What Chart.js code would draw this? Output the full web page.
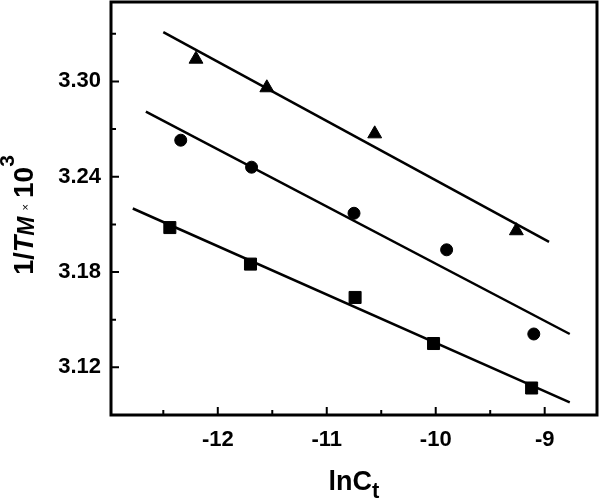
<!DOCTYPE html>
<html>
<head>
<meta charset="utf-8">
<script src="https://cdn.jsdelivr.net/npm/chart.js@4"></script>
<style>
  html, body { margin: 0; padding: 0; background: #fff; overflow: hidden; }
  canvas { display: block; }
</style>
</head>
<body>
<canvas id="grafico" width="600" height="500"></canvas>
<script>
// Datos
const xTriangulos = [-12.20, -11.55, -10.56, -9.26];
const yTriangulos = [3.314, 3.296, 3.267, 3.206];
const xCirculos = [-12.34, -11.69, -10.75, -9.90, -9.10];
const yCirculos = [3.263, 3.246, 3.217, 3.194, 3.141];
const xCuadrados = [-12.44, -11.70, -10.74, -10.02, -9.12];
const yCuadrados = [3.208, 3.185, 3.164, 3.135, 3.107];

// Rectas de ajuste (extremos)
const xRectaTri = [-12.50, -8.96];
const yRectaTri = [3.331, 3.199];
const xRectaCir = [-12.66, -8.77];
const yRectaCir = [3.281, 3.141];
const xRectaCua = [-12.78, -8.77];
const yRectaCua = [3.220, 3.098];

const ticksX = [-12, -11, -10, -9];
const ticksY = [3.12, 3.18, 3.24, 3.30];
const menoresX = [-12.5, -11.5, -10.5, -9.5];
const menoresY = [3.15, 3.21, 3.27, 3.33];

const fuente = '"Liberation Sans", Arial, sans-serif';

function puntos(xs, ys) {
  return xs.map((x, i) => ({ x: x, y: ys[i] }));
}

function serieMarcas(xs, ys, estilo, radio) {
  return {
    data: puntos(xs, ys),
    showLine: false,
    pointStyle: estilo,
    pointRadius: radio,
    pointHoverRadius: radio,
    backgroundColor: '#000',
    borderColor: '#000',
    borderWidth: 1
  };
}

function serieRecta(xs, ys) {
  return {
    data: puntos(xs, ys),
    showLine: true,
    pointRadius: 0,
    borderColor: '#000',
    borderWidth: 2.5,
    fill: false
  };
}

// Marco, marcas interiores y títulos de los ejes
const decoracion = {
  id: 'decoracion',
  afterDraw(chart) {
    const ctx = chart.ctx;
    const a = chart.chartArea;
    const sx = chart.scales.x;
    const sy = chart.scales.y;
    ctx.save();
    ctx.strokeStyle = '#000';
    ctx.lineWidth = 2;
    ctx.beginPath();
    ticksX.forEach(v => { const p = sx.getPixelForValue(v); ctx.moveTo(p, a.bottom); ctx.lineTo(p, a.bottom - 8); });
    menoresX.forEach(v => { const p = sx.getPixelForValue(v); ctx.moveTo(p, a.bottom); ctx.lineTo(p, a.bottom - 5); });
    ticksY.forEach(v => { const p = sy.getPixelForValue(v); ctx.moveTo(a.left, p); ctx.lineTo(a.left + 8, p); });
    menoresY.forEach(v => { const p = sy.getPixelForValue(v); ctx.moveTo(a.left, p); ctx.lineTo(a.left + 5, p); });
    ctx.stroke();
    ctx.lineWidth = 3;
    ctx.strokeRect(a.left, a.top, a.right - a.left, a.bottom - a.top);

    // Título eje X: lnCt
    ctx.fillStyle = '#000';
    ctx.textBaseline = 'alphabetic';
    const partesX = [
      { t: 'lnC', f: 'bold 27px ' + fuente, dy: 0 },
      { t: 't', f: 'bold 22px ' + fuente, dy: 8 }
    ];
    dibujarPartes(ctx, partesX, (a.left + a.right) / 2, 490);

    // Título eje Y: 1/TM × 10^3
    ctx.translate(33, 215);
    ctx.rotate(-Math.PI / 2);
    const partesY = [
      { t: '1/', f: 'bold 27px ' + fuente, dy: 0 },
      { t: 'T', f: 'italic bold 27px ' + fuente, dy: 0 },
      { t: 'M', f: 'italic bold 23px ' + fuente, dy: 1 },
      { t: '  \u00d7  ', f: '11px ' + fuente, dy: -4 },
      { t: '10', f: 'bold 28px ' + fuente, dy: 0 },
      { t: '3', f: 'bold 21px ' + fuente, dy: -19 }
    ];
    dibujarPartes(ctx, partesY, 0, 0);
    ctx.restore();
  }
};

function dibujarPartes(ctx, partes, cx, y) {
  let total = 0;
  partes.forEach(p => { ctx.font = p.f; total += ctx.measureText(p.t).width; });
  let x = cx - total / 2;
  ctx.textAlign = 'left';
  partes.forEach(p => {
    ctx.font = p.f;
    ctx.fillText(p.t, x, y + p.dy);
    x += ctx.measureText(p.t).width;
  });
}

new Chart(document.getElementById('grafico'), {
  type: 'scatter',
  data: {
    datasets: [
      serieRecta(xRectaTri, yRectaTri),
      serieRecta(xRectaCir, yRectaCir),
      serieRecta(xRectaCua, yRectaCua),
      serieMarcas(xTriangulos, yTriangulos, 'triangle', 8),
      serieMarcas(xCirculos, yCirculos, 'circle', 6),
      serieMarcas(xCuadrados, yCuadrados, 'rect', 8.5)
    ]
  },
  options: {
    responsive: false,
    animation: false,
    layout: { autoPadding: false, padding: { left: 0, top: 2, right: 3, bottom: 0 } },
    plugins: {
      legend: { display: false },
      tooltip: { enabled: false }
    },
    scales: {
      x: {
        type: 'linear',
        min: -12.98,
        max: -8.52,
        afterBuildTicks: s => { s.ticks = ticksX.map(v => ({ value: v })); },
        afterFit: s => { s.height = 85; s.paddingLeft = 0; s.paddingRight = 0; },
        grid: { display: false, drawTicks: false },
        border: { display: false },
        ticks: {
          color: '#000',
          padding: 12,
          maxRotation: 0,
          font: { family: fuente, size: 22, weight: 'bold' },
          callback: v => String(v)
        }
      },
      y: {
        type: 'linear',
        min: 3.09,
        max: 3.35,
        afterBuildTicks: s => { s.ticks = ticksY.map(v => ({ value: v })); },
        afterFit: s => { s.width = 111; s.paddingTop = 0; s.paddingBottom = 0; },
        grid: { display: false, drawTicks: false },
        border: { display: false },
        ticks: {
          color: '#000',
          padding: 10,
          font: { family: fuente, size: 22, weight: 'bold' },
          callback: v => v.toFixed(2)
        }
      }
    }
  },
  plugins: [decoracion]
});
</script>
</body>
</html>
